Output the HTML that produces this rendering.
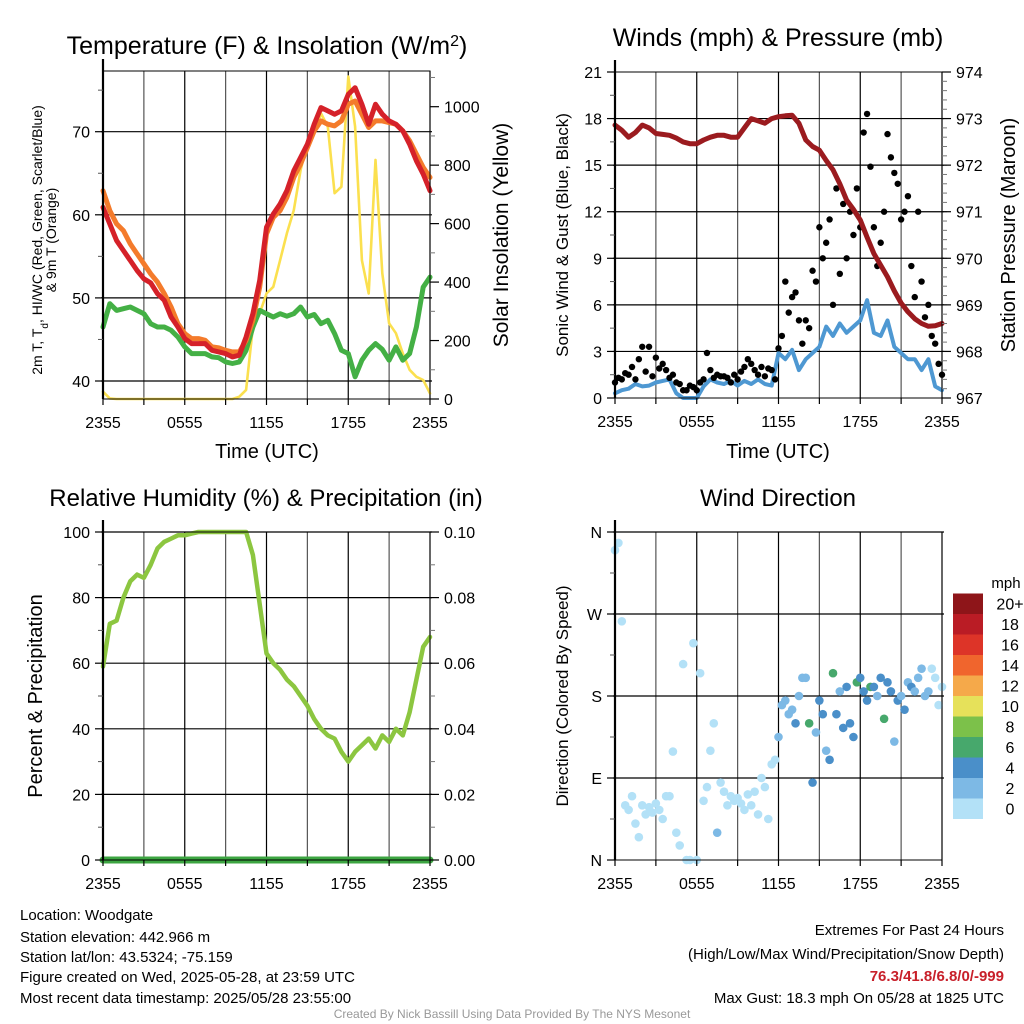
<!DOCTYPE html>
<html><head><meta charset="utf-8">
<style>
html,body{margin:0;padding:0;background:#fff;}
svg{display:block;font-family:"Liberation Sans",Arial,sans-serif;}
</style></head>
<body>
<svg id="fig" width="1024" height="1024" viewBox="0 0 1024 1024" xmlns="http://www.w3.org/2000/svg">
  <rect x="0" y="0" width="1024" height="1024" fill="#fff"/>
  <g id="layer-grid"></g>
  <g id="layer-data"></g>
  <g id="layer-axes"></g>

  <!-- titles -->
  <text x="267" y="54" font-size="25" text-anchor="middle">Temperature (F) &amp; Insolation (W/m<tspan baseline-shift="super" font-size="16">2</tspan>)</text>
  <text x="778" y="46" font-size="25" text-anchor="middle">Winds (mph) &amp; Pressure (mb)</text>
  <text x="266" y="506" font-size="24" text-anchor="middle">Relative Humidity (%) &amp; Precipitation (in)</text>
  <text x="778" y="506" font-size="24" text-anchor="middle">Wind Direction</text>

  <!-- axis titles -->
  <g transform="translate(42,240) rotate(-90)">
    <text x="0" y="0" font-size="14" text-anchor="middle">2m T, T<tspan baseline-shift="sub" font-size="10">d</tspan>, HI/WC (Red, Green, Scarlet/Blue)</text>
    <text x="0" y="14" font-size="14" text-anchor="middle">&amp; 9m T (Orange)</text>
  </g>
  <text transform="translate(508,235) rotate(-90)" font-size="21" text-anchor="middle">Solar Insolation (Yellow)</text>
  <text x="267" y="458" font-size="20" text-anchor="middle">Time (UTC)</text>
  <text transform="translate(568,235) rotate(-90)" font-size="17" text-anchor="middle">Sonic Wind &amp; Gust (Blue, Black)</text>
  <text transform="translate(1015,235) rotate(-90)" font-size="20" text-anchor="middle">Station Pressure (Maroon)</text>
  <text x="778" y="458" font-size="20" text-anchor="middle">Time (UTC)</text>
  <text transform="translate(42,696) rotate(-90)" font-size="20" text-anchor="middle">Percent &amp; Precipitation</text>
  <text transform="translate(568,696) rotate(-90)" font-size="17" text-anchor="middle">Direction (Colored By Speed)</text>

  <!-- legend -->
  <g id="legend">
    <text x="1006" y="588" font-size="15" text-anchor="middle">mph</text>
  </g>

  <!-- footer -->
  <g font-size="15">
    <text x="20" y="920">Location: Woodgate</text>
    <text x="20" y="942">Station elevation: 442.966 m</text>
    <text x="20" y="962">Station lat/lon: 43.5324; -75.159</text>
    <text x="20" y="982">Figure created on Wed, 2025-05-28, at 23:59 UTC</text>
    <text x="20" y="1003">Most recent data timestamp: 2025/05/28 23:55:00</text>
  </g>
  <g font-size="15" text-anchor="end">
    <text x="1004" y="935">Extremes For Past 24 Hours</text>
    <text x="1004" y="959">(High/Low/Max Wind/Precipitation/Snow Depth)</text>
    <text x="1004" y="981" font-weight="bold" fill="#c8202a">76.3/41.8/6.8/0/-999</text>
    <text x="1004" y="1003">Max Gust: 18.3 mph On 05/28 at 1825 UTC</text>
  </g>
  <text x="512" y="1018" font-size="12" fill="#999" text-anchor="middle">Created By Nick Bassill Using Data Provided By The NYS Mesonet</text>
</svg>
<script>
// ---------- data (half-hourly, hours 0..24 from 2355 UTC) ----------
const timeLabels = ["2355","0555","1155","1755","2355"];
const temp2m = [60.9,58.9,56.9,55.7,54.5,53.3,52.3,51.8,50.5,49.7,47.7,46.5,45.1,44.5,44.5,44.5,43.7,43.5,43.3,42.9,43.1,45.3,48.1,52.1,58.5,60.1,61.3,62.9,65.3,66.9,68.5,70.9,72.9,72.5,72.1,72.5,74.5,75.3,73.3,70.9,73.3,72.1,71.3,70.9,70.1,68.5,66.5,64.9,62.9];
const temp9m = [62.9,60.5,58.9,58.1,56.5,55.3,54.1,52.9,51.9,50.5,48.9,46.9,45.7,45.1,45.1,44.9,44.1,44.0,43.7,43.5,43.5,44.9,47.3,51.3,57.7,59.7,60.5,62.1,64.5,66.1,68.1,70.1,71.3,70.9,70.7,71.3,73.3,73.7,72.1,70.5,71.3,71.3,71.1,70.9,70.1,68.9,67.3,65.7,64.5];
const dewpoint = [46.5,49.3,48.5,48.7,48.9,48.5,48.1,46.9,46.5,46.5,46.1,45.3,44.1,43.3,43.3,43.3,42.9,42.8,42.3,42.1,42.3,43.7,46.5,48.5,48.1,47.7,48.1,47.8,48.1,48.9,47.7,48.0,46.9,47.3,45.7,43.7,43.3,40.5,42.5,43.7,44.5,43.8,42.5,44.1,42.5,43.3,46.5,51.3,52.5];
const insolation = [25,2,0,0,0,0,0,0,0,0,0,0,0,0,0,0,0,0,0,0,8,31,247,293,361,384,475,567,646,783,875,909,977,932,704,726,1103,932,475,361,818,430,259,225,156,100,76,65,19];
// winds (half-hourly)
const windSust = [0.3,0.5,0.6,0.9,0.75,0.8,1.0,1.1,1.2,0.3,0,0,0,0.75,1.2,1.0,0.9,1.1,0.8,1.1,0.9,1.2,0.9,0.8,2.9,2.5,3.1,1.8,2.5,2.9,3.3,4.6,4.0,4.8,4.2,4.6,5.0,6.3,4.2,4.0,5.0,3.3,2.9,2.5,2.5,1.8,2.5,0.75,0.5];
const pressure = [972.86,972.75,972.6,972.7,972.86,972.8,972.68,972.66,972.64,972.58,972.5,972.46,972.46,972.54,972.6,972.64,972.64,972.6,972.6,972.8,973.0,972.95,972.9,973.0,973.04,973.06,973.07,972.9,972.54,972.4,972.32,972.1,971.9,971.6,971.25,971.05,970.82,970.45,970.1,969.85,969.6,969.3,969.04,968.85,968.7,968.6,968.54,968.55,968.6];
// gusts (quarter-hourly)
const gusts = [1.0,1.3,1.2,1.6, 1.5,2.0,1.2,2.5, 3.3,1.7,3.3,1.4, 2.6,1.9,2.2,1.8, 1.3,1.5,1.0,0.9, 0.5,0.5,0.8,0.7, 0.5,1.0,1.2,2.9, 1.8,1.3,1.5,1.4, 1.4,1.3,1.0,1.5, 1.2,1.7,2.0,2.5, 2.2,1.8,1.5,2.0, 1.4,1.9,1.8,1.2, 3.2,4.0,7.5,5.5, 6.5,6.8,5.0,3.5, 5.0,4.5,8.2,7.5, 11.0,9.0,10.0,11.5, 6.0,13.5,8.0,12.5, 9.0,12.0,10.5,13.5, 11.0,17.1,18.3,14.9, 11.0,8.5,10.0,12.0, 17.0,15.5,14.5,13.8, 11.5,12.0,13.0,8.5, 6.5,12.0,7.5,5.2, 6.0,4.0,3.5,2.2, 1.5];
// humidity (half-hourly), precipitation
const relHum = [59,72,73,80,85,87,86,90,95,97,98,99,99,99.5,100,100,100,100,100,100,100,100,93,78,63,60,58,55,53,50,47,43,40,38,37,33,30,33,35,37,34,38,36,40,38,45,55,65,68];
const precip = [0,0,0,0,0,0,0,0,0,0,0,0,0,0,0,0,0,0,0,0,0,0,0,0,0,0,0,0,0,0,0,0,0,0,0,0,0,0,0,0,0,0,0,0,0,0,0,0,0];
// wind direction (quarter-hourly, degrees) and speed
const windDir = [340,348,262,60, 55,70,40,25, 60,50,58,52, 62,55,45,70, 70,119,30,16, 215,0,0,238, 0,205,65,80, 120,150,30,85, 75,60,70,65, 68,62,55,72, 60,75,50,90, 80,45,105,110, 135,170,175,160, 165,150,180,200, 200,150,85,140, 175,160,120,110, 205,160,185,145, 190,150,135,195, 200,185,175,190, 190,180,200,155, 195,185,130,175, 180,165,195,190, 185,200,210,180, 185,210,200,170, 190];
const dirSpeed = [1,1,1,1, 1,1,1,1, 1,1,1,1, 1,1,1,1, 1,1,1,1, 0.5,0,0,0.5, 0,0.8,1.5,1.2, 1,1,2.5,1, 1,1,1,1, 1,1,1,1, 1,1,1,1, 1.5,1,1.5,1.8, 2.5,3.0,2.2,3.5, 2.8,4.2,2.5,3.0, 3.8,6.5,4.5,3.2, 4.5,4.0,2.5,4.8, 6.2,4.5,3.0,4.2, 4.6,4.0,5.0,6.5, 4.8,5.2,4.1,6.8, 4.3,3.5,4.5,6.2, 4.0,5.0,3.8,4.5, 3.0,4.2,2.5,4.0, 2.8,3.5,2.2,3.0, 2.5,1.8,1.5,1.2, 1.0];
const legendLabels = ["0","2","4","6","8","10","12","14","16","18","20+"];
const legendColors = ["#b3e1f7","#7db9e5","#4a8fc9","#47a86c","#7cc14a","#e6e15a","#f5a94a","#f0652d","#dd3428","#ba1c25","#8e1519"];

// ---------- layout ----------
const NS = "http://www.w3.org/2000/svg";
const gGrid = document.getElementById("layer-grid");
const gData = document.getElementById("layer-data");
const gAxes = document.getElementById("layer-axes");
function mk(parent, tag, attrs){ const e=document.createElementNS(NS,tag); for(const k in attrs) e.setAttribute(k,attrs[k]); parent.appendChild(e); return e; }

const P1={x0:103,x1:430,y0:71,y1:399};
const P2={x0:615,x1:942,y0:72,y1:398};
const P3={x0:103,x1:430,y0:532,y1:860};
const P4={x0:615,x1:942,y0:532,y1:860};
function xh(P,h){ return P.x0 + h/24*(P.x1-P.x0); }
function lin(d0,d1,r0,r1){ return v => r0 + (v-d0)/(d1-d0)*(r1-r0); }
const yTemp = lin(40,70,381,131.7);
const yIns = lin(0,1000,399,106.7);
const yWind = lin(0,21,398,72);
const yPres = lin(967,974,398,72);
const yRH = lin(0,100,860,532);
const yPrec = lin(0,0.10,860,532);
const yDir = lin(0,360,860,532);

// ---------- grid ----------
function grid(P, yVals, yScale, name){
  for(let h=0; h<=24; h+=3){
    const X=xh(P,h);
    const l=mk(gGrid,"line",{x1:X,x2:X,y1:P.y0,y2:P.y1,stroke:(h%6===0?"#000":"#555"),"stroke-width":1.2});
    
    
  }
  yVals.forEach(v=>{
    const Y=yScale(v);
    const l=mk(gGrid,"line",{x1:P.x0-2,x2:P.x1+2,y1:Y,y2:Y,stroke:"#000","stroke-width":1.2});
    
    
  });
}
grid(P1,[40,50,60,70],yTemp,"temperature");
grid(P2,[3,6,9,12,15,18],yWind,"wind");
grid(P3,[20,40,60,80,100],yRH,"humidity");
grid(P4,[90,180,270,360],yDir,"direction");

// ---------- axes ----------
function frameAxes(P,name,leftTicks,leftScale,leftLabels,leftMinor,rightTicks,rightScale,rightLabels,rightMinor){
  const f=mk(gAxes,"rect",{x:P.x0,y:P.y0,width:P.x1-P.x0,height:P.y1-P.y0,fill:"none",stroke:"#000","stroke-width":1});
  
  
  const la=mk(gAxes,"line",{x1:P.x0,x2:P.x0,y1:P.y0-12,y2:P.y1,stroke:"#000","stroke-width":2.2});
  
  
  leftMinor.forEach(v=>{ const Y=leftScale(v); mk(gAxes,"line",{x1:P.x0-5,x2:P.x0,y1:Y,y2:Y,stroke:"#555","stroke-width":1}); });
  leftTicks.forEach((v,i)=>{
    const Y=leftScale(v);
    mk(gAxes,"line",{x1:P.x0-8,x2:P.x0,y1:Y,y2:Y,stroke:"#000","stroke-width":1.2});
    const t=mk(gAxes,"text",{x:P.x0-13,y:Y+6,"font-size":16,"text-anchor":"end"});
    t.textContent=leftLabels[i];
    
    
  });
  if(rightTicks){
    rightMinor.forEach(v=>{ const Y=rightScale(v); mk(gAxes,"line",{x1:P.x1,x2:P.x1+5,y1:Y,y2:Y,stroke:"#777","stroke-width":1}); });
    rightTicks.forEach((v,i)=>{
      const Y=rightScale(v);
      mk(gAxes,"line",{x1:P.x1,x2:P.x1+9,y1:Y,y2:Y,stroke:"#000","stroke-width":1.2});
      const t=mk(gAxes,"text",{x:P.x1+14,y:Y+6,"font-size":16,"text-anchor":"start"});
      t.textContent=rightLabels[i];
      
      
    });
  }
  for(let h=0; h<=24; h+=3){
    const X=xh(P,h);
    mk(gAxes,"line",{x1:X,x2:X,y1:P.y1,y2:P.y1+6,stroke:"#000","stroke-width":1.2});
    if(h%6===0){
      const t=mk(gAxes,"text",{x:X,y:P.y1+29,"font-size":16,"text-anchor":"middle"});
      t.textContent=timeLabels[h/6];
      
      
    }
  }
}
function rng(a,b,s){ const r=[]; for(let v=a; v<=b+1e-9; v+=s) r.push(Math.round(v*1000)/1000); return r; }
frameAxes(P1,"temperature",[40,50,60,70],yTemp,["40","50","60","70"],[45,55,65,75],
  [0,200,400,600,800,1000],yIns,["0","200","400","600","800","1000"],rng(100,1100,200));
frameAxes(P2,"wind",rng(0,21,3),yWind,rng(0,21,3).map(String),rng(1.5,19.5,3),
  rng(967,974,1),yPres,rng(967,974,1).map(String),rng(967.2,973.8,0.2));
frameAxes(P3,"humidity",rng(0,100,20),yRH,rng(0,100,20).map(String),rng(10,90,20),
  rng(0,0.1,0.02),yPrec,["0.00","0.02","0.04","0.06","0.08","0.10"],rng(0.01,0.09,0.02));
frameAxes(P4,"direction",[0,90,180,270,360],yDir,["N","E","S","W","N"],[45,135,225,315],null,null,null,null);

// ---------- series ----------
function line(P,arr,step,yScale,color,w,name){
  const pts=arr.map((v,i)=>xh(P,i*step).toFixed(1)+","+Math.max(P.y0,Math.min(P.y1,yScale(v))).toFixed(1)).join(" ");
  const p=mk(gData,"polyline",{points:pts,fill:"none",stroke:color,"stroke-width":w,"stroke-linejoin":"round","stroke-linecap":"round"});
  
  
}
line(P1,insolation,0.5,yIns,"#fbe04f",2.6,"insolation-line");
line(P1,dewpoint,0.5,yTemp,"#44b045",5,"dewpoint-line");
line(P1,temp9m,0.5,yTemp,"#f47b2b",5,"temp-9m-line");
line(P1,temp2m,0.5,yTemp,"#d52129",5,"temp-2m-line");

line(P2,windSust,0.5,yWind,"#4e98d2",4,"sustained-wind-line");
gusts.forEach((v,i)=>{
  const c=mk(gData,"circle",{cx:xh(P2,i*0.25),cy:yWind(v),r:3.2,fill:"#000"});
  
  
});
line(P2,pressure,0.5,yPres,"#9b1b1f",5,"pressure-line");

line(P3,relHum,0.5,yRH,"#8cc640",4.5,"relative-humidity-line");
line(P3,precip,0.5,yPrec,"#3da542",7,"precipitation-line");

function spdColor(s){ const k=Math.min(10,Math.max(0,Math.floor(s/2))); return legendColors[k]; }
windDir.forEach((d,i)=>{
  const c=mk(gData,"circle",{cx:xh(P4,i*0.25),cy:yDir(d),r:4.3,fill:spdColor(dirSpeed[i])});
  
  
});

// ---------- legend ----------
const gLeg=document.getElementById("legend");
legendColors.forEach((col,i)=>{
  const y0=819 - (i+1)*20.5;
  const r=mk(gLeg,"rect",{x:953,y:y0,width:30,height:20.5,fill:col});
  
  
  const t=mk(gLeg,"text",{x:1010,y:y0+16,"font-size":16,"text-anchor":"middle"});
  t.textContent=legendLabels[i];
  
  
});
</script>
</body></html>
